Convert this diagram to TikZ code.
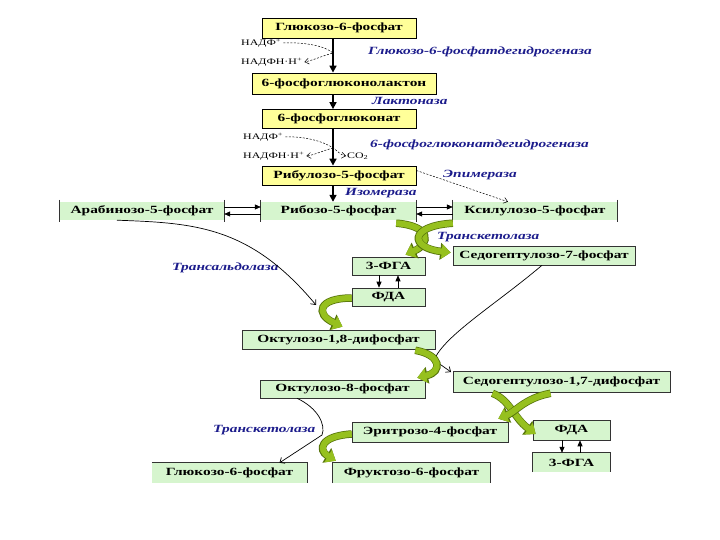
\documentclass[tikz,border=0pt]{standalone}
\usepackage{fontspec}
\setmainfont{Liberation Serif}[FakeStretch=1.4]
\usetikzlibrary{arrows.meta}
\definecolor{ylw}{RGB}{255,255,153}
\definecolor{grn}{RGB}{214,245,206}
\definecolor{enz}{RGB}{28,28,140}
\definecolor{gar}{RGB}{150,192,30}
\definecolor{gard}{RGB}{85,115,10}
\tikzset{
  box/.style={inner sep=0pt, font=\bfseries\fontsize{11}{12}\selectfont, text=black},
  ybox/.style={box, fill=ylw, draw=black, line width=0.8pt},
  gbox/.style={box, fill=grn, draw=black!80, line width=0.6pt},
  gfill/.style={box, fill=grn},
  edge/.style={draw=black!80, line width=0.7pt},
  enzlab/.style={font=\bfseries\itshape\fontsize{11}{12}\selectfont, text=enz, inner sep=0pt, anchor=west},
  smalltxt/.style={font=\fontsize{8.5}{9}\selectfont, inner sep=0pt, anchor=west},
  mainarr/.style={-{Triangle[width=7pt,length=7pt]}, line width=1.6pt},
  thinarr/.style={-{Triangle[width=5pt,length=6pt]}, line width=0.7pt},
  curvarr/.style={-{Straight Barb[length=4pt,width=7pt]}, line width=0.7pt},
  dasharr/.style={-{Straight Barb[length=4pt,width=6pt]}, dashed, dash pattern=on 2pt off 1.5pt, line width=0.5pt},
  greenarr/.style={draw=gar, line width=6pt, -{Triangle[width=14pt,length=9pt]},
     preaction={draw=gard, line width=7.5pt, -{Triangle[width=16.5pt,length=10.5pt]}}}
}
\begin{document}
\begin{tikzpicture}[x=1pt,y=-1pt]
\useasboundingbox (0,0) rectangle (720,540);
\fill[white] (0,0) rectangle (720,540);

% ---- yellow boxes
\node[ybox, minimum width=154, minimum height=20] (g6p) at (339,28) {Глюкозо-6-фосфат};
\node[ybox, minimum width=184, minimum height=21] (lac) at (344,83.5) {6-фосфоглюконолактон};
\node[ybox, minimum width=154, minimum height=19] (pgl) at (339,119) {6-фосфоглюконат};
\node[ybox, minimum width=154, minimum height=19] (ru5p) at (339,175.5) {Рибулозо-5-фосфат};

% ---- green boxes, first row
\node[gfill, minimum width=164, minimum height=18] (ara) at (142,211) {Арабинозо-5-фосфат};
\node[gfill, minimum width=155, minimum height=18] (rib) at (338.5,211) {Рибозо-5-фосфат};
\node[gfill, minimum width=164, minimum height=18] (xu5p) at (535,211) {Ксилулозо-5-фосфат};
\foreach \n in {ara,rib,xu5p}{
  \draw[edge] ([yshift=2pt]\n.north west) -- ([yshift=-2pt]\n.south west);
  \draw[edge] ([yshift=2pt]\n.north east) -- ([yshift=-2pt]\n.south east);
}

% ---- other green boxes
\node[gbox, minimum width=182, minimum height=19] (s7p) at (544,255.5) {Седогептулозо-7-фосфат};
\node[gbox, minimum width=73, minimum height=18] (fga1) at (388.5,266) {3-ФГА};
\node[gbox, minimum width=73, minimum height=18] (fda1) at (388.5,297) {ФДА};
\node[gbox, minimum width=193, minimum height=19] (oct18) at (338.5,339.5) {Октулозо-1,8-дифосфат};
\node[gbox, minimum width=165, minimum height=18] (oct8) at (342.5,389) {Октулозо-8-фосфат};
\node[gbox, minimum width=217, minimum height=21] (sbp) at (561.5,381.5) {Седогептулозо-1,7-дифосфат};
\node[gbox, minimum width=156, minimum height=20] (e4p) at (430,432) {Эритрозо-4-фосфат};
\node[gbox, minimum width=77, minimum height=20] (fda2) at (571.5,430) {ФДА};
\node[gfill, minimum width=77, minimum height=19] (fga2) at (571.5,462.5) {3-ФГА};
\draw[edge] (fga2.south west) -- (fga2.north west) -- (fga2.north east) -- (fga2.south east);
\node[gfill, minimum width=155, minimum height=20] (g6p2) at (229.5,473) {Глюкозо-6-фосфат};
\draw[edge] (g6p2.north west) -- (g6p2.north east) -- (g6p2.south east);
\node[gfill, minimum width=157, minimum height=20] (f6p) at (411.5,473) {Фруктозо-6-фосфат};
\draw[edge] (f6p.south west) -- (f6p.north west) -- (f6p.north east) -- (f6p.south east);

% ---- enzyme labels
\node[enzlab] (enz1) at (368,52) {Глюкозо-6-фосфатдегидрогеназа};
\node[enzlab] (enz2) at (372,101) {Лактоназа};
\node[enzlab] (enz3) at (370,145) {6-фосфоглюконатдегидрогеназа};
\node[enzlab] (enz4) at (443,175) {Эпимераза};
\node[enzlab] (enz5) at (345,193) {Изомераза};
\node[enzlab] (enz6) at (437,237) {Транскетолаза};
\node[enzlab] (enz7) at (172,268) {Трансальдолаза};
\node[enzlab] (enz8) at (213,430) {Транскетолаза};

% ---- cofactors
\node[smalltxt] (nadp1) at (241,43) {НАДФ\textsuperscript{+}};
\node[smalltxt] (nadph1) at (241,62) {НАДФН·Н\textsuperscript{+}};
\node[smalltxt] (nadp2) at (243,137) {НАДФ\textsuperscript{+}};
\node[smalltxt] (nadph2) at (243,156) {НАДФН·Н\textsuperscript{+}};
\node[smalltxt] (co2) at (347,156) {CO\textsubscript{2}};

% ---- main vertical arrows
\coordinate (ax) at (333,0);
\draw[mainarr] (g6p.south -| ax) -- (lac.north -| ax);
\draw[mainarr] (lac.south -| ax) -- (pgl.north -| ax);
\draw[mainarr] (pgl.south -| ax) -- (ru5p.north -| ax);
\draw[mainarr] (ru5p.south -| ax) -- (rib.north -| ax);

% ---- dashed cofactor arrows
\coordinate (c1) at (333,53);
\draw[dasharr] ([xshift=2pt]nadp1.east) .. controls (305,42) and (325,46) .. (c1)
   .. controls (322,56) and (314,60) .. ([xshift=2pt]nadph1.east);
\coordinate (c2) at (333,148);
\draw[dasharr] ([xshift=2pt]nadp2.east) .. controls (305,136) and (325,142) .. (c2)
   .. controls (338,151) and (340,155) .. ([xshift=-1pt]co2.west);
\draw[dasharr] (c2) .. controls (322,151) and (314,155) .. ([xshift=2pt]nadph2.east);

% ---- epimerase
\draw[dasharr] ([yshift=5pt]ru5p.east) -- ([xshift=-27pt]xu5p.north);

% ---- reversible arrows
\draw[thinarr] ([yshift=4pt]ara.east) -- ([yshift=4pt]rib.west);
\draw[thinarr] ([yshift=-3pt]rib.west) -- ([yshift=-3pt]ara.east);
\draw[thinarr] ([yshift=4pt]rib.east) -- ([yshift=4pt]xu5p.west);
\draw[thinarr] ([yshift=-3pt]xu5p.west) -- ([yshift=-3pt]rib.east);

% ---- transaldolase curve
\coordinate (ta) at (316,305);
\draw[curvarr] ([xshift=-25pt]ara.south) .. controls (195,223) and (250,226) .. (ta);

% ---- sedoheptulose-7 to 1,7-bisphosphate
\coordinate (sb1) at (434,360);
\coordinate (sb2) at (451,372);
\draw[curvarr] ([xshift=-2pt]s7p.south) .. controls (495,305) and (445,335) .. (sb1) -- (sb2);

% ---- FGA/FDA arrows
\draw[thinarr] (fga1.south -| 379,0) -- (fda1.north -| 379,0);
\draw[thinarr] (fda1.north -| 398,0) -- (fga1.south -| 398,0);
\draw[thinarr] (fda2.south -| 562,0) -- (fga2.north -| 562,0);
\draw[thinarr] (fga2.north -| 580,0) -- (fda2.south -| 580,0);

% ---- transketolase 2 curve
\coordinate (tk) at (322,435);
\draw[curvarr] ([xshift=-45.5pt]oct8.south) .. controls (318,408) and (326,425) .. (tk) -- ([xshift=50pt]g6p2.north);

% ---- green curved arrows
\draw[greenarr] ([xshift=-20pt,yshift=-3pt]rib.south east) .. controls (432,226) and (430,244) .. ([xshift=17pt,yshift=2pt]fga1.north);
\draw[greenarr] ([xshift=0pt,yshift=-3pt]xu5p.south west) .. controls (408,226) and (410,248) .. ([xshift=-2pt,yshift=3pt]s7p.west);
\draw[greenarr] ([yshift=-1pt]fda1.west) .. controls (318,298) and (315,314) .. ([xshift=4pt,yshift=3pt]oct18.north);
\draw[greenarr] ([xshift=-20pt,yshift=-1pt]oct18.south east) .. controls (442,355) and (442,372) .. ([xshift=-8pt,yshift=2pt]oct8.north east);
\draw[greenarr] ([xshift=-69pt,yshift=-1pt]sbp.south) .. controls (510,400) and (514,418) .. ([xshift=3pt,yshift=-4pt]fda2.west);
\draw[greenarr] ([xshift=-11pt,yshift=-1pt]sbp.south) .. controls (525,398) and (515,412) .. ([xshift=-10pt,yshift=3pt]e4p.north east);
\draw[greenarr] ([yshift=-2pt]e4p.west) .. controls (320,436) and (318,450) .. ([xshift=3pt,yshift=2pt]f6p.north west);
\end{tikzpicture}
\end{document}
